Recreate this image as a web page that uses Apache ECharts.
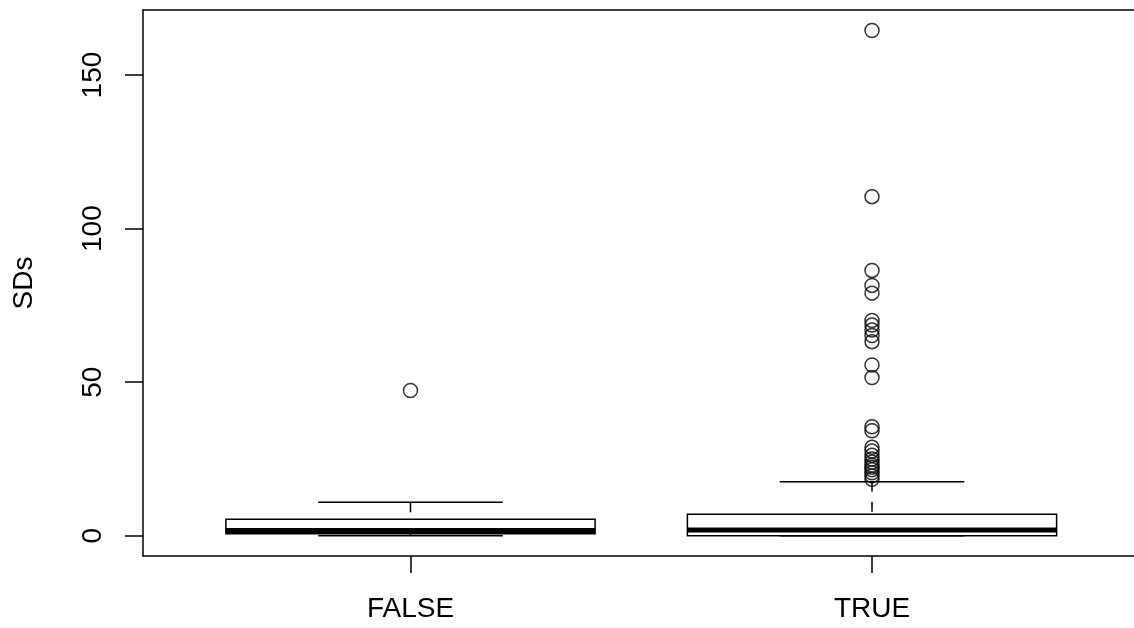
<!DOCTYPE html>
<html>
<head>
<meta charset="utf-8">
<script src="https://cdn.jsdelivr.net/npm/echarts@6/dist/echarts.min.js"></script>
<style>
html,body{margin:0;padding:0;background:#fff;}
#chart{width:1134px;height:628px;}
</style>
</head>
<body>
<div id="chart"></div>
<script>
// ---- data ----
const categories = ['FALSE', 'TRUE'];
const lowerWhisker = [0, 0];
const q1 = [0.7, 0.0];
const median = [1.7, 1.9];
const q3 = [5.4, 7.0];
const upperWhisker = [10.9, 17.6];
const outliersFalse = [47.3];
const outliersTrue = [164.5, 110.4, 86.4, 81.5, 79.0, 70.1, 68.6, 67.0, 65.2, 63.2,
  55.6, 51.5, 35.5, 34.2, 28.8, 27.6, 26.2, 25.0, 24.0, 23.0, 22.3, 21.5, 20.5, 19.5, 18.4];
const yTicks = [0, 50, 100, 150];
const yLabel = 'SDs';

// ---- build series data ----
const boxData = categories.map((c, i) => [i + 1, lowerWhisker[i], q1[i], median[i], q3[i], upperWhisker[i]]);
const outlierData = [];
outliersFalse.forEach(v => outlierData.push([1, v]));
outliersTrue.forEach(v => outlierData.push([2, v]));

const FONT = 'Liberation Sans, Arial, Helvetica, sans-serif';
const chart = echarts.init(document.getElementById('chart'), null, {renderer: 'canvas'});

function renderBox(params, api) {
  const x = api.value(0);
  const lw = api.value(1), b1 = api.value(2), md = api.value(3), b3 = api.value(4), uw = api.value(5);
  const half = 0.4, capHalf = 0.2;
  const c = (xx, yy) => api.coord([xx, yy]);
  const line = (a, b, style) => ({
    type: 'line',
    shape: {x1: a[0], y1: a[1], x2: b[0], y2: b[1]},
    style: Object.assign({stroke: '#000', lineWidth: 1.5, fill: null}, style || {})
  });
  const tl = c(x - half, b3), br = c(x + half, b1);
  return {
    type: 'group',
    children: [
      line(c(x, uw), c(x, b3), {lineDash: [10, 10]}),
      line(c(x, lw), c(x, b1), {lineDash: [10, 10]}),
      line(c(x - capHalf, uw), c(x + capHalf, uw)),
      line(c(x - capHalf, lw), c(x + capHalf, lw)),
      {
        type: 'rect',
        shape: {x: tl[0], y: tl[1], width: br[0] - tl[0], height: br[1] - tl[1]},
        style: {stroke: '#000', lineWidth: 1.5, fill: 'none'}
      },
      line(c(x - half, md), c(x + half, md), {lineWidth: 5})
    ]
  };
}

const axisLineStyle = {color: '#000', width: 1.5};

chart.setOption({
  animation: false,
  backgroundColor: '#fff',
  grid: {
    left: 143, top: 10, right: 0, bottom: 72,
    show: false
  },
  xAxis: [{
    type: 'value',
    position: 'bottom',
    min: 0.4204, max: 2.5677,
    axisLine: {show: true, onZero: false, lineStyle: axisLineStyle},
    splitLine: {show: false},
    axisTick: {show: true, customValues: [1, 2], length: 17, lineStyle: axisLineStyle},
    axisLabel: {
      customValues: [1, 2],
      formatter: v => categories[Math.round(v) - 1],
      fontSize: 28, color: '#000', fontFamily: FONT, margin: 39
    }
  }, {
    type: 'value',
    position: 'top',
    min: 0.4204, max: 2.5677,
    axisLine: {show: true, onZero: false, lineStyle: axisLineStyle},
    splitLine: {show: false},
    axisTick: {show: false},
    axisLabel: {show: false}
  }],
  yAxis: {
    type: 'value',
    position: 'left',
    min: -6.584, max: 171.18,
    axisLine: {show: true, onZero: false, lineStyle: axisLineStyle},
    splitLine: {show: false},
    axisTick: {show: true, customValues: yTicks, length: 18, lineStyle: axisLineStyle},
    axisLabel: {
      customValues: yTicks, rotate: 90,
      fontSize: 28, color: '#000', fontFamily: FONT, margin: 36
    },
    name: yLabel, nameLocation: 'middle', nameRotate: 90, nameGap: 105,
    nameTextStyle: {fontSize: 28, color: '#000', fontFamily: FONT}
  },
  series: [
    {
      type: 'custom',
      renderItem: renderBox,
      data: boxData,
      encode: {x: 0, y: [1, 2, 3, 4, 5]},
      clip: false,
      silent: true
    },
    {
      type: 'scatter',
      data: outlierData,
      symbol: 'circle',
      symbolSize: 14,
      itemStyle: {color: 'rgba(0,0,0,0)', borderColor: '#000', borderWidth: 1.5},
      silent: true
    }
  ]
});
</script>
</body>
</html>
